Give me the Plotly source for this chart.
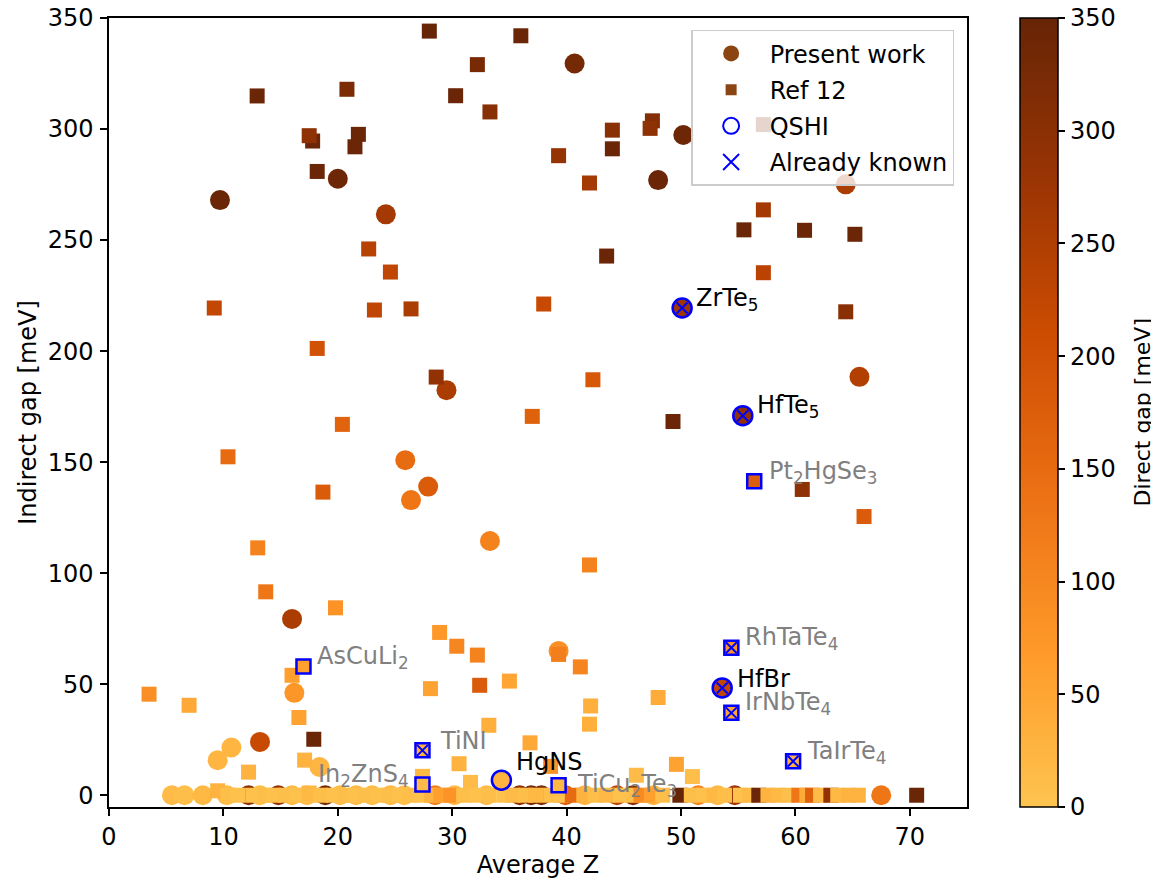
import plotly.graph_objects as go

# ---------------- data ----------------
# Present work (circles): average Z, indirect gap, direct gap
pw_x = [40.7, 9.7, 20.0, 24.2, 50.2, 48.0, 64.4, 65.6, 29.5, 25.9, 27.9, 26.4, 33.3, 16.0, 39.3, 16.2,
        13.2, 9.5, 10.7, 18.4,
        5.5, 6.6, 8.2, 10.3, 12.2, 13.2, 14.8, 16.0, 17.3, 18.9, 20.2, 21.6, 23.0, 24.6, 25.8, 28.5,
        30.2, 33.0, 35.9, 36.9, 37.8, 39.9, 41.6, 44.4, 45.8, 47.6, 51.5, 53.2, 54.7, 67.5]
pw_y = [329.5, 268.0, 277.6, 261.6, 297.3, 277.0, 275.1, 188.4, 182.4, 150.9, 139.0, 132.9, 114.5, 79.4, 65.0, 46.1,
        24.0, 15.8, 21.5, 12.7,
        0, 0, 0, 0, 0, 0, 0, 0, 0, 0, 0, 0, 0, 0, 0, 0,
        0, 0, 0, 0, 0, 0, 0, 0, 0, 0, 0, 0, 0, 0]
pw_c = [330, 345, 340, 265, 340, 345, 255, 245, 255, 150, 180, 130, 110, 255, 85, 75,
        215, 25, 25, 25,
        15, 10, 20, 15, 300, 10, 290, 20, 15, 330, 15, 20, 15, 20, 10, 120,
        15, 20, 300, 330, 320, 175, 25, 230, 300, 30, 110, 20, 270, 130]

# Ref 12 (squares)
ref_x = [28.0, 12.95, 20.8, 17.8, 17.5, 21.8, 21.5, 18.2, 22.7, 24.6, 30.3, 36.0, 32.2, 33.3, 47.5, 47.3,
         44.0, 44.0, 39.3, 42.0, 57.2, 55.5, 60.8, 65.2, 43.5, 57.2, 57.2,
         9.2, 23.2, 26.4, 18.2, 28.6, 20.4, 10.4, 18.7, 13.0, 38.0, 64.4, 42.3, 37.0, 49.3, 60.6, 66.0,
         13.7, 19.8, 28.9, 30.4, 32.2, 39.3, 41.2, 42.0, 3.5, 7.0, 28.1, 16.0, 16.6, 17.9, 32.4, 35.0,
         42.1, 42.0, 48.0, 33.2, 36.8, 12.2, 17.1, 30.6, 31.6, 38.6, 46.1, 49.6, 51.0, 27.4,
         9.5, 10.4, 11.3, 12.6, 13.6, 14.4, 15.4, 16.4, 17.5, 18.5, 19.6, 20.6, 21.5, 22.4, 23.5, 24.5,
         25.4, 26.3, 27.3, 28.2, 29.0, 29.9, 31.0, 32.1, 33.2, 34.5, 35.3, 36.4, 37.3, 38.6, 39.5, 40.5,
         41.5, 42.5, 43.5, 44.7, 45.9, 46.5, 47.4, 48.4, 49.9, 50.9, 52.0, 52.9, 53.8, 55.2, 56.0, 56.8,
         57.6, 58.5, 59.4, 60.3, 61.0, 61.5, 62.2, 63.1, 63.7, 64.7, 65.5, 70.6]
ref_y = [344.1, 314.9, 317.9, 294.6, 297.0, 297.6, 292.0, 280.9, 246.0, 235.6, 315.0, 342.0, 329.0, 307.7, 303.7, 300.3,
         299.5, 291.1, 288.0, 275.7, 263.6, 254.6, 254.4, 252.6, 242.8, 235.3, 302.0,
         219.4, 218.5, 219.0, 201.2, 188.3, 167.0, 152.4, 136.5, 111.4, 221.2, 217.7, 187.1, 170.6, 168.3, 137.7, 125.5,
         91.6, 84.4, 73.3, 67.1, 63.1, 63.4, 57.8, 103.7, 45.5, 40.5, 48.0, 54.0, 35.0, 25.2, 49.5, 51.4,
         40.2, 32.0, 44.0, 31.5, 23.6, 10.4, 15.8, 14.2, 5.8, 13.0, 9.0, 13.9, 8.4, 8.5,
         2, 0, 0, 0, 0, 0, 0, 0, 1, 0, 0, 0, 0, 0, 0, 0,
         0, 0, 0, 0, 0, 0, 0, 0, 0, 0, 0, 0, 0, 0, 0, 0,
         0, 0, 0, 0, 0, 0, 0, 0, 0, 0, 0, 0, 0, 0, 0, 0,
         0, 0, 0, 0, 0, 0, 0, 0, 0, 0, 0, 0]
ref_c = [350, 345, 320, 345, 295, 345, 345, 345, 240, 228, 345, 345, 325, 305, 310, 295,
         300, 345, 285, 265, 265, 345, 345, 345, 345, 235, 310,
         225, 228, 255, 200, 290, 165, 150, 180, 110, 215, 300, 185, 170, 345, 295, 180,
         130, 80, 70, 100, 110, 115, 105, 110, 85, 45, 55, 60, 55, 345, 180, 50,
         35, 35, 40, 35, 45, 30, 30, 30, 15, 80, 15, 55, 10, 20,
         30, 10, 5, 5, 10, 5, 10, 5, 20, 10, 5, 10, 5, 10, 5, 10,
         5, 10, 5, 30, 60, 80, 10, 5, 10, 5, 15, 10, 20, 10, 5, 150,
         30, 10, 20, 5, 10, 95, 60, 10, 350, 10, 5, 20, 10, 5, 15, 345,
         30, 20, 10, 130, 40, 170, 15, 290, 20, 30, 30, 345]

# QSHI candidates
q_names = ["ZrTe<sub>5</sub>", "HfTe<sub>5</sub>", "HfBr", "HgNS",
           "Pt<sub>2</sub>HgSe<sub>3</sub>", "AsCuLi<sub>2</sub>", "RhTaTe<sub>4</sub>", "IrNbTe<sub>4</sub>",
           "TaIrTe<sub>4</sub>", "TiNI", "In<sub>2</sub>ZnS<sub>4</sub>", "TiCu<sub>2</sub>Te<sub>3</sub>"]
q_x = [50.1, 55.4, 53.6, 34.3, 56.4, 17.0, 54.4, 54.4, 59.8, 27.4, 27.4, 39.3]
q_y = [219.4, 170.9, 48.3, 6.8, 141.4, 58.0, 66.4, 37.1, 15.3, 20.2, 4.8, 4.5]
q_c = [275, 290, 225, 30, 175, 60, 80, 50, 30, 30, 15, 20]
q_source = ["present", "present", "present", "present", "ref", "ref", "ref", "ref", "ref", "ref", "ref", "ref"]
q_known = [True, True, True, False, False, False, True, True, True, True, False, False]
# label offsets (data units) and alignment
q_dx = [1.0, 1.1, 1.1, 1.1, 1.1, 1.0, 1.0, 1.0, 1.0, 1.4, -1.0, 1.4]
q_dy = [0, 0, 0, 4.0, 0, 0, 0, 0, 0, 0, 0, -4.0]

gap_ticks = [0, 50, 100, 150, 200, 250, 300, 350]
z_ticks = [0, 10, 20, 30, 40, 50, 60, 70]

colorscale = [[0.0, "#fec44f"], [0.2, "#fe9929"], [0.4, "#ec7014"],
              [0.6, "#cc4c02"], [0.8, "#993404"], [1.0, "#662506"]]

FONT = "DejaVu Sans"
FS = 24

fig = go.Figure()

# Present work circles
fig.add_trace(go.Scatter(
    x=pw_x, y=pw_y, mode="markers", showlegend=False,
    marker=dict(symbol="circle", size=20, color=pw_c, coloraxis="coloraxis", line=dict(width=0)),
    hoverinfo="skip"))

# Ref 12 squares
fig.add_trace(go.Scatter(
    x=ref_x, y=ref_y, mode="markers", showlegend=False,
    marker=dict(symbol="square", size=15, color=ref_c, coloraxis="coloraxis", line=dict(width=0)),
    hoverinfo="skip"))

# QSHI markers
for src, sym, sz in [("present", "circle", 19), ("ref", "square", 14)]:
    idx = [i for i, s in enumerate(q_source) if s == src]
    fig.add_trace(go.Scatter(
        x=[q_x[i] for i in idx], y=[q_y[i] for i in idx], mode="markers", showlegend=False,
        marker=dict(symbol=sym, size=sz, color=[q_c[i] for i in idx], coloraxis="coloraxis",
                    line=dict(color="blue", width=2.5)),
        hoverinfo="skip"))

# Already known crosses
kidx = [i for i, k in enumerate(q_known) if k]
fig.add_trace(go.Scatter(
    x=[q_x[i] for i in kidx], y=[q_y[i] for i in kidx], mode="markers", showlegend=False,
    marker=dict(symbol="x-thin-open", size=11, color="blue", line=dict(color="blue", width=2)),
    hoverinfo="skip"))

# legend entries
legend_items = [
    ("Present work", dict(symbol="circle", size=16, color="#8B4513")),
    ("Ref 12", dict(symbol="square", size=11, color="#8B4513")),
    ("QSHI", dict(symbol="circle-open", size=16, color="blue", line=dict(width=2))),
    ("Already known", dict(symbol="x-thin-open", size=16, color="blue", line=dict(color="blue", width=2))),
]
for name, mk in legend_items:
    fig.add_trace(go.Scatter(x=[None], y=[None], mode="markers", name=name,
                             legendgroup=name, marker=mk))

# labels
for i, name in enumerate(q_names):
    col = "black" if q_source[i] == "present" else "grey"
    fig.add_annotation(
        x=q_x[i] + q_dx[i], y=q_y[i] + q_dy[i], text=name, showarrow=False,
        xanchor="left" if q_dx[i] > 0 else "right", yanchor="middle", yshift=9,
        font=dict(family=FONT, size=FS, color=col))

# colorbar title (as rotated text beside the colorbar)
fig.add_annotation(
    xref="paper", yref="paper", x=1.2051, y=0.5, text="Direct gap [meV]", textangle=-90,
    showarrow=False, xanchor="center", yanchor="middle",
    font=dict(family=FONT, size=22, color="black"))

axis_common = dict(showline=True, mirror=True, linecolor="black", linewidth=1.5,
                   ticks="outside", ticklen=7, tickwidth=1.5, tickcolor="black",
                   showgrid=False, zeroline=False, automargin=False, ticklabeloverflow="allow",
                   tickfont=dict(family=FONT, size=FS, color="black"))

# page body has an 8px margin, so the figure is 8px smaller than the window
fig.update_layout(
    width=1151, height=872,
    margin=dict(l=101, r=192, t=10, b=73, autoexpand=False),
    paper_bgcolor="white", plot_bgcolor="white",
    font=dict(family=FONT, size=FS, color="black"),
    xaxis=dict(range=[0, 75], tickvals=z_ticks,
               title=dict(text="Average Z", standoff=3, font=dict(family=FONT, size=FS)), **axis_common),
    yaxis=dict(range=[-5.3, 350], tickvals=gap_ticks, ticklabelstandoff=2,
               title=dict(text="Indirect gap [meV]", standoff=4, font=dict(family=FONT, size=FS)), **axis_common),
    coloraxis=dict(
        colorscale=colorscale, cmin=0, cmax=350,
        colorbar=dict(
            x=1.0618, xanchor="left", xpad=0, y=0.5, yanchor="middle", ypad=0,
            len=1, lenmode="fraction", thickness=38,
            outlinewidth=1.5, outlinecolor="black",
            ticks="outside", ticklen=7, tickwidth=1.5, tickcolor="black",
            tickvals=gap_ticks, ticklabeloverflow="allow",
            tickfont=dict(family=FONT, size=FS, color="black"))),
    legend=dict(x=0.985, y=0.985, xanchor="right", yanchor="top",
                bgcolor="rgba(255,255,255,0.8)", bordercolor="#cccccc", borderwidth=1.5,
                font=dict(family=FONT, size=FS, color="black"), itemsizing="trace",
                itemwidth=67, tracegroupgap=2),
)

fig.write_html("out.html")
